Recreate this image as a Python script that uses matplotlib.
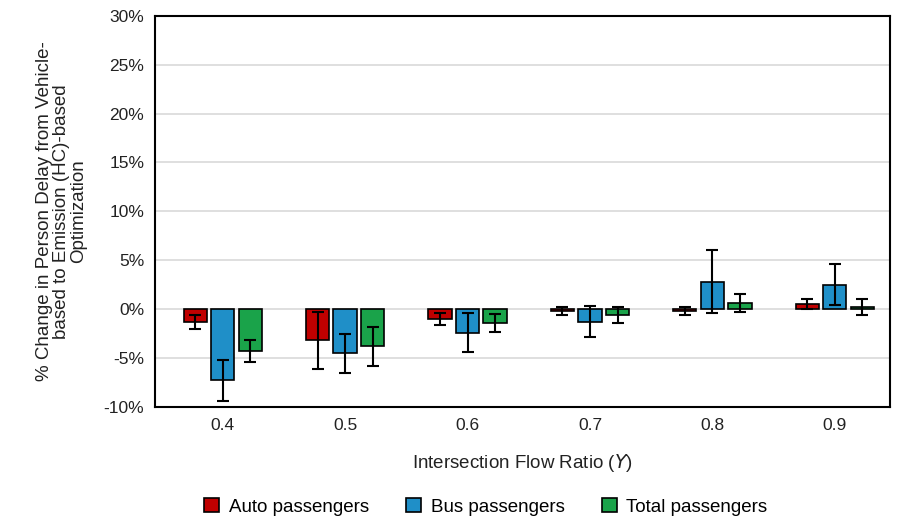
import matplotlib.pyplot as plt
import numpy as np

plt.rcParams['font.family'] = ['Liberation Sans', 'DejaVu Sans']

flow_ratio = ['0.4', '0.5', '0.6', '0.7', '0.8', '0.9']
auto = [-1.3, -3.2, -1.0, -0.2, -0.2, 0.55]
auto_err = [0.7, 2.9, 0.6, 0.4, 0.4, 0.5]
bus = [-7.3, -4.5, -2.4, -1.3, 2.8, 2.5]
bus_err = [2.1, 2.0, 2.0, 1.6, 3.2, 2.1]
total = [-4.3, -3.8, -1.4, -0.6, 0.65, 0.2]
total_err = [1.1, 2.0, 0.9, 0.8, 0.9, 0.8]

fig = plt.figure(figsize=(8.98, 5.25), dpi=100)
ax = fig.add_axes([0.173, 0.225, 0.818, 0.745])

x = np.arange(len(flow_ratio))
w = 0.19
sp = 0.225
series = [(auto, auto_err, '#c00000', 'Auto passengers'),
          (bus, bus_err, '#1f8fc8', 'Bus passengers'),
          (total, total_err, '#1aa34a', 'Total passengers')]
for i, (vals, errs, col, lab) in enumerate(series):
    ax.bar(x + (i - 1) * sp, vals, w, yerr=errs, color=col, edgecolor='black',
           linewidth=1.2, label=lab, capsize=4,
           error_kw=dict(elinewidth=1.5, capthick=1.5), zorder=3)

ax.set_ylim(-10, 30)
ax.set_xlim(-0.55, 5.45)
ax.set_yticks(np.arange(-10, 31, 5))
ax.set_yticklabels([f'{v}%' for v in range(-10, 31, 5)])
ax.set_xticks(x)
ax.set_xticklabels(flow_ratio)
ax.tick_params(length=0, labelsize=12.5, colors='#222222', pad=8)
ax.grid(axis='y', color='#d9d9d9', linewidth=1.2, zorder=0)
for s in ax.spines.values():
    s.set_linewidth(1.5)
ax.set_xlabel('Intersection Flow Ratio ($\\it{Y}$)', fontsize=13.5, color='#222222', labelpad=14)
ax.set_ylabel('% Change in Person Delay from Vehicle-\nbased to Emission (HC)-based\nOptimization',
              fontsize=13.5, color='#222222', linespacing=1.0, labelpad=12)
ax.legend(loc='upper center', bbox_to_anchor=(0.45, -0.19), ncol=3, frameon=False,
          fontsize=13.5, handlelength=0.8, handleheight=0.8, columnspacing=2.0, handletextpad=0.5)

fig.savefig('out.png')
